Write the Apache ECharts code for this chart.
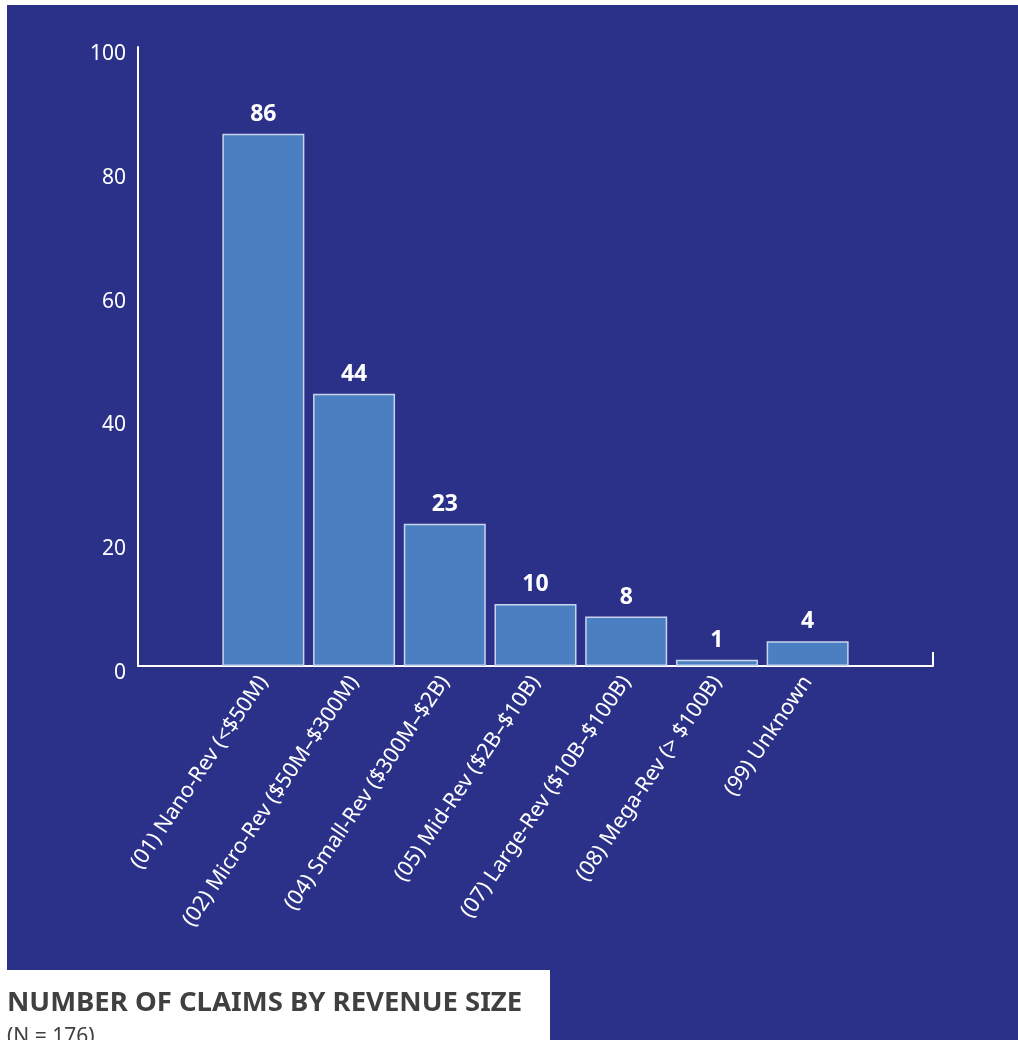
<!DOCTYPE html>
<html>
<head>
<meta charset="utf-8">
<script src="https://cdn.jsdelivr.net/npm/echarts@6/dist/echarts.min.js"></script>
<style>
    html, body { margin: 0; padding: 0; background: #ffffff; }
    #chart { width: 1018px; height: 1040px; }
</style>
</head>
<body>
<div id="chart"></div>
<script>
// categories and counts
var categories = [
    '(01) Nano-Rev (<$50M)',
    '(02) Micro-Rev ($50M–$300M)',
    '(04) Small-Rev ($300M–$2B)',
    '(05) Mid-Rev ($2B–$10B)',
    '(07) Large-Rev ($10B–$100B)',
    '(08) Mega-Rev (> $100B)',
    '(99) Unknown'
];
var claimCounts = [86, 44, 23, 10, 8, 1, 4];
var yTicks = [0, 20, 40, 60, 80, 100];

var navy = '#2b3189';
var barBlue = '#4a7fc1';
var fontFamily = '"Noto Sans", "Open Sans", sans-serif';

var chart = echarts.init(document.getElementById('chart'));

var option = {
    backgroundColor: '#ffffff',
    animation: false,
    graphic: [
        // blue panel
        { type: 'rect', z: -10, shape: { x: 7, y: 5, width: 1011, height: 1035 }, style: { fill: navy } },
        // white caption box
        { type: 'rect', z: -9, shape: { x: 0, y: 970, width: 550, height: 70 }, style: { fill: '#ffffff' } }
    ],
    title: [
        {
            text: 'NUMBER OF CLAIMS BY REVENUE SIZE',
            left: 2,
            top: 984,
            textStyle: { color: '#404040', fontSize: 27.5, fontWeight: 'bold', fontFamily: fontFamily }
        },
        {
            text: '(N = 176)',
            left: 2,
            top: 1022,
            textStyle: { color: '#404040', fontSize: 21, fontWeight: 'normal', fontFamily: fontFamily }
        }
    ],
    grid: [
        { left: 138, right: 85, top: 47, bottom: 374 },   // frame with axes
        { left: 218, right: 165, top: 47, bottom: 374 }   // bars
    ],
    xAxis: [
        {
            gridIndex: 0,
            type: 'value',
            min: 0,
            max: 1,
            interval: 1,
            axisLine: { show: true, lineStyle: { color: '#ffffff', width: 2 } },
            axisTick: { show: true, inside: true, length: 14, lineStyle: { color: '#ffffff', width: 2 } },
            axisLabel: { show: false },
            splitLine: { show: false }
        },
        {
            gridIndex: 1,
            type: 'category',
            data: categories,
            axisLine: { show: false },
            axisTick: { show: false },
            axisLabel: {
                rotate: 56,
                interval: 0,
                margin: 12,
                color: '#ffffff',
                fontSize: 21.5,
                fontFamily: fontFamily
            }
        }
    ],
    yAxis: [
        {
            gridIndex: 0,
            type: 'value',
            min: yTicks[0],
            max: yTicks[yTicks.length - 1],
            interval: 20,
            axisLine: { show: true, lineStyle: { color: '#ffffff', width: 2 } },
            axisTick: { show: false },
            splitLine: { show: false },
            axisLabel: {
                color: '#ffffff',
                fontSize: 21,
                margin: 12,
                verticalAlign: 'top',
                lineHeight: 14,
                fontFamily: fontFamily
            }
        },
        {
            gridIndex: 1,
            type: 'value',
            min: 0,
            max: 100,
            show: false
        }
    ],
    series: [
        {
            name: 'Claims',
            type: 'bar',
            xAxisIndex: 1,
            yAxisIndex: 1,
            barWidth: 82,
            data: claimCounts,
            itemStyle: {
                color: barBlue,
                borderColor: '#c9d5ec',
                borderWidth: 1.5
            },
            label: {
                show: true,
                position: 'top',
                distance: 8,
                color: '#ffffff',
                fontSize: 23,
                fontWeight: 'bold',
                fontFamily: fontFamily
            }
        }
    ]
};

chart.setOption(option);
</script>
</body>
</html>
